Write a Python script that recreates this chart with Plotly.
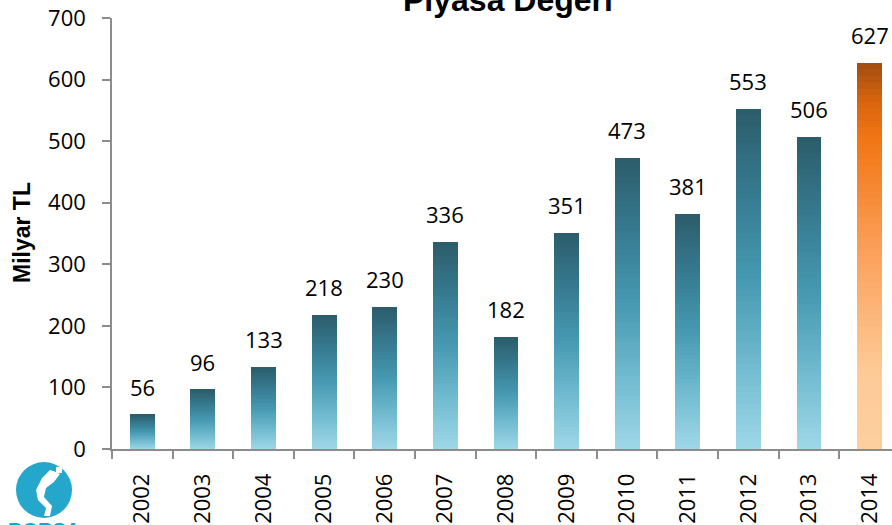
import plotly.graph_objects as go
import numpy as np

years = ["2002", "2003", "2004", "2005", "2006", "2007", "2008",
         "2009", "2010", "2011", "2012", "2013", "2014"]
values = [56, 96, 133, 218, 230, 336, 182, 351, 473, 381, 553, 506, 627]
highlight = [False] * 12 + [True]

teal_stops = [(0.0, "#9fd8e8"), (0.25, "#70bacf"), (0.5, "#4699b1"),
              (0.75, "#367a90"), (1.0, "#2c5c6a")]
orange_stops = [(0.0, "#fdcf9f"), (0.2, "#fdca97"), (0.5, "#fba25d"),
                (0.8, "#f27615"), (0.9, "#d8650f"), (1.0, "#a04c10")]


def hex2rgb(h):
    h = h.lstrip("#")
    return np.array([int(h[i:i + 2], 16) for i in (0, 2, 4)], dtype=float)


def interp(stops, t):
    for (t0, c0), (t1, c1) in zip(stops[:-1], stops[1:]):
        if t0 <= t <= t1:
            f = (t - t0) / (t1 - t0) if t1 > t0 else 0
            c = hex2rgb(c0) * (1 - f) + hex2rgb(c1) * f
            return "rgb(%d,%d,%d)" % tuple(np.round(c))
    return stops[-1][1]


W, H = 892, 525
L, R, T, B = 112, 0, 18, 76
PW, PH = W - L - R, H - T - B


def px(xp):
    return (xp - L) / PW


def py(yp):
    return (H - B - yp) / PH


NUM_FONT = "Open Sans"

N = 60
fig = go.Figure()
for k in range(N):
    t = (k + 0.5) / N
    cols = [interp(orange_stops if h else teal_stops, t) for h in highlight]
    fig.add_trace(go.Bar(
        x=years, y=[v / N for v in values],
        marker=dict(color=cols, line=dict(width=0)),
        width=0.41, hoverinfo="skip", showlegend=False))

for i, v in enumerate(values):
    fig.add_annotation(x=i, y=v, xref="x", yref="y", text=str(v),
                       showarrow=False, yanchor="bottom", yshift=11,
                       font=dict(family=NUM_FONT, size=22, color="#000"))

axis_color = "#8c8c8c"
fig.update_layout(
    width=W, height=H,
    margin=dict(l=L, r=R, t=T, b=B, autoexpand=False),
    barmode="stack", bargap=0,
    paper_bgcolor="white", plot_bgcolor="white",
    font=dict(family=NUM_FONT, size=22, color="#000"),
    xaxis=dict(type="category", range=[-0.5, 12.37], tickangle=-90,
               showline=True, linecolor=axis_color, linewidth=1.5,
               ticks="outside", tickson="boundaries", ticklen=8,
               tickcolor=axis_color, tickwidth=1.5, showgrid=False,
               ticklabelstandoff=14, tickfont=dict(size=22)),
    yaxis=dict(range=[0, 700], dtick=100, showline=True,
               linecolor=axis_color, linewidth=1.5, ticks="outside",
               ticklen=8, tickcolor=axis_color, tickwidth=1.5,
               showgrid=False, zeroline=False, ticklabelstandoff=12,
               tickfont=dict(size=22)),
)

# y axis title
fig.add_annotation(x=px(22), y=py(233), xref="paper", yref="paper",
                   xanchor="center", yanchor="middle",
                   text="<b>Milyar TL</b>", textangle=-90, showarrow=False,
                   font=dict(family="Liberation Sans", size=23, color="#000"))

fig.add_annotation(x=px(508), y=1, xref="paper", yref="paper",
                   yanchor="bottom", yshift=-2,
                   text="<b>Piyasa Değeri</b>", showarrow=False,
                   font=dict(family="Liberation Sans", size=32, color="#000"))

# logo
fig.add_shape(type="circle", xref="paper", yref="paper",
              x0=px(16), x1=px(72), y0=py(518), y1=py(462),
              fillcolor="#24a7ca", line=dict(width=0))
pts = [(50, 470), (42, 478), (36, 490), (38, 500), (46, 508), (44, 516),
       (50, 516), (52, 506), (44, 497), (46, 488), (54, 482), (60, 474),
       (56, 472)]
path = "M " + " L ".join("%.4f,%.4f" % (px(a), py(b)) for a, b in pts) + " Z"
fig.add_shape(type="path", xref="paper", yref="paper", path=path,
              fillcolor="white", line=dict(width=0))
fig.add_shape(type="rect", xref="paper", yref="paper",
              x0=px(56), x1=px(62), y0=py(473), y1=py(467),
              fillcolor="white", line=dict(width=0))
fig.add_annotation(x=px(44), y=py(517), xref="paper", yref="paper",
                   xanchor="center", yanchor="top", text="<b>BORSA</b>",
                   showarrow=False,
                   font=dict(family="Liberation Sans", size=20, color="#1ba3c6"))

fig.write_html("out.html", config={"displayModeBar": False},
               post_script="document.body.style.margin='0';"
                           "document.body.style.overflow='hidden';")
